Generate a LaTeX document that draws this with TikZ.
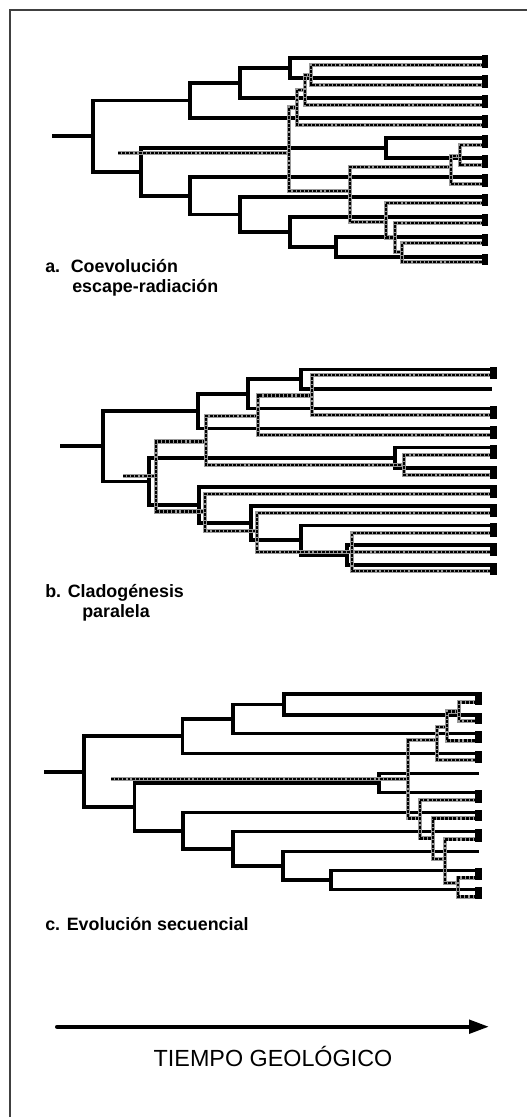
\documentclass[tikz,border=0pt]{standalone}
\usepackage{fontspec}
\setmainfont{Liberation Sans}
\usetikzlibrary{arrows.meta}
\begin{document}
\begin{tikzpicture}[x=0.75pt,y=-0.75pt,
  host/.style={line width=2.4pt, line join=miter, line cap=rect},
  para/.style={preaction={draw=black!40, line width=3.2pt, line cap=butt, solid}, draw=black, line width=1.9pt, dash pattern=on 2.2pt off 0.9pt},
  lab/.style={anchor=base west, inner sep=0pt, font=\bfseries\fontsize{13.4pt}{16pt}\selectfont},
  timeline/.style={line width=3pt, line cap=round, -{Triangle[length=15pt, width=10pt]}},
]
\useasboundingbox (0,0) rectangle (527,1118);
\draw[black!75, line width=0.8pt] (10,1117) -- (10,10) -- (527,10);

% ---------------- a. host tree
\draw[host] (54,136) -- (93,136);
\draw[host] (190,100.5) -- (93,100.5) -- (93,172) -- (141,172);
\draw[host] (240,83) -- (190,83) -- (190,118) -- (484,118);
\draw[host] (290,68) -- (240,68) -- (240,98) -- (484,98);
\draw[host] (484,58) -- (290,58) -- (290,78) -- (484,78);
\draw[host] (386,148) -- (141,148) -- (141,196) -- (190,196);
\draw[host] (484,138) -- (386,138) -- (386,158) -- (484,158);
\draw[host] (484,177) -- (190,177) -- (190,214.5) -- (240,214.5);
\draw[host] (484,197) -- (240,197) -- (240,232) -- (290,232);
\draw[host] (484,217) -- (290,217) -- (290,247) -- (336,247);
\draw[host] (484,237) -- (336,237) -- (336,257) -- (484,257);
% a. parasite tree
\draw[para] (118,153) -- (289,153);
\draw[para] (297,107.5) -- (289,107.5) -- (289,191) -- (350,191);
\draw[para] (305,90) -- (297,90) -- (297,125) -- (484,125);
\draw[para] (311,75) -- (305,75) -- (305,105) -- (484,105);
\draw[para] (484,65) -- (311,65) -- (311,85) -- (484,85);
\draw[para] (451,167) -- (350,167) -- (350,222) -- (386,222);
\draw[para] (460,156) -- (451,156) -- (451,184) -- (484,184);
\draw[para] (484,145) -- (460,145) -- (460,165) -- (484,165);
\draw[para] (484,203) -- (386,203) -- (386,237.5) -- (395,237.5);
\draw[para] (484,223) -- (395,223) -- (395,252) -- (402,252);
\draw[para] (484,243) -- (402,243) -- (402,262) -- (484,262);
\foreach \s/\d in {58/65,78/85,98/105,118/125,138/145,158/165,177/184,197/203,217/223,237/243,257/262}
  \fill (482,{\s-3}) rectangle (488,{\d+3});

% ---------------- b. host tree
\draw[host] (62,446) -- (103,446);
\draw[host] (198,411) -- (103,411) -- (103,481.5) -- (149,481.5);
\draw[host] (248,394) -- (198,394) -- (198,428.5) -- (492,428.5);
\draw[host] (301,379) -- (248,379) -- (248,408.5) -- (492,408.5);
\draw[host] (492,369.5) -- (301,369.5) -- (301,389) -- (490,389);
\draw[host] (395,458) -- (149,458) -- (149,505) -- (199,505);
\draw[host] (492,447.5) -- (395,447.5) -- (395,468) -- (492,468);
\draw[host] (492,487) -- (199,487) -- (199,523) -- (251,523);
\draw[host] (492,506) -- (251,506) -- (251,540) -- (301,540);
\draw[host] (492,525.5) -- (301,525.5) -- (301,555) -- (347,555);
\draw[host] (492,545) -- (347,545) -- (347,565) -- (492,565);
% b. parasite tree
\draw[para] (123,476) -- (156,476);
\draw[para] (206,441.5) -- (156,441.5) -- (156,511.5) -- (205,511.5);
\draw[para] (258,416) -- (206,416) -- (206,465) -- (404,465);
\draw[para] (312,395.5) -- (258,395.5) -- (258,435) -- (492,435);
\draw[para] (492,375) -- (312,375) -- (312,415) -- (492,415);
\draw[para] (492,455) -- (404,455) -- (404,475) -- (492,475);
\draw[para] (492,494) -- (205,494) -- (205,531) -- (257,531);
\draw[para] (492,513) -- (257,513) -- (257,552) -- (492,552);
\draw[para] (492,533) -- (352,533) -- (352,571) -- (492,571);
\foreach \s/\d in {369.5/375,408.5/415,428.5/435,447.5/455,468/475,487/494,506/513,525.5/533,545/552,565/571}
  \fill (490,{\s-2.5}) rectangle (496.5,{\d+4});

% ---------------- c. host tree
\draw[host] (46,772) -- (84,772);
\draw[host] (182.5,736) -- (84,736) -- (84,807) -- (134.5,807);
\draw[host] (233,719) -- (182.5,719) -- (182.5,753.3) -- (477,753.3);
\draw[host] (284,704.5) -- (233,704.5) -- (233,733.3) -- (477,733.3);
\draw[host] (477,694) -- (284,694) -- (284,715) -- (477,715);
\draw[host] (379,783) -- (134.5,783) -- (134.5,831) -- (183,831);
\draw[host] (477,773.3) -- (379,773.3) -- (379,792.7) -- (477,792.7);
\draw[host] (477,812.7) -- (183,812.7) -- (183,849) -- (233,849);
\draw[host] (477,831.7) -- (233,831.7) -- (233,866) -- (283,866);
\draw[host] (477,851.7) -- (283,851.7) -- (283,880) -- (331,880);
\draw[host] (477,870.7) -- (331,870.7) -- (331,889.3) -- (477,889.3);
% c. parasite tree
\draw[para] (111,779) -- (408,779);
\draw[para] (437,740) -- (408,740) -- (408,818.3) -- (420,818.3);
\draw[para] (447,727) -- (437,727) -- (437,760) -- (477,760);
\draw[para] (459,711.5) -- (447,711.5) -- (447,740.7) -- (477,740.7);
\draw[para] (477,702.3) -- (459,702.3) -- (459,721) -- (477,721);
\draw[para] (477,800) -- (420,800) -- (420,838.3) -- (433,838.3);
\draw[para] (477,818.3) -- (433,818.3) -- (433,859) -- (445,859);
\draw[para] (477,839.3) -- (445,839.3) -- (445,883) -- (458,883);
\draw[para] (477,877.7) -- (458,877.7) -- (458,896.7) -- (477,896.7);
\foreach \s/\d in {694/702.3,715/721,733.3/740.7,753.3/760,792.7/800,812.7/818.3,831.7/839.3,870.7/877.7,889.3/896.7}
  \fill (475,{\s-2.5}) rectangle (481.5,{\d+2.7});

% ---------------- labels
\node[lab] (la1) at (45,272) {a.};
\node[lab] (la2) at (70.5,272) {Coevolución};
\node[lab] (la3) at (72,292) {escape-radiación};
\node[lab] (lb1) at (45,597) {b. Cladogénesis};
\node[lab] (lb2) at (82,617) {paralela};
\node[lab] (lc) at (45,930.5) {c. Evolución secuencial};

% ---------------- time arrow
\coordinate (ta) at (57,1026.7);
\coordinate (tb) at (489,1026.7);
\draw[timeline] (ta) -- (tb);
\node[anchor=base, inner sep=0pt, font=\fontsize{17.5pt}{20pt}\selectfont] (tg) at (273,1066) {TIEMPO GEOLÓGICO};
\end{tikzpicture}
\end{document}
